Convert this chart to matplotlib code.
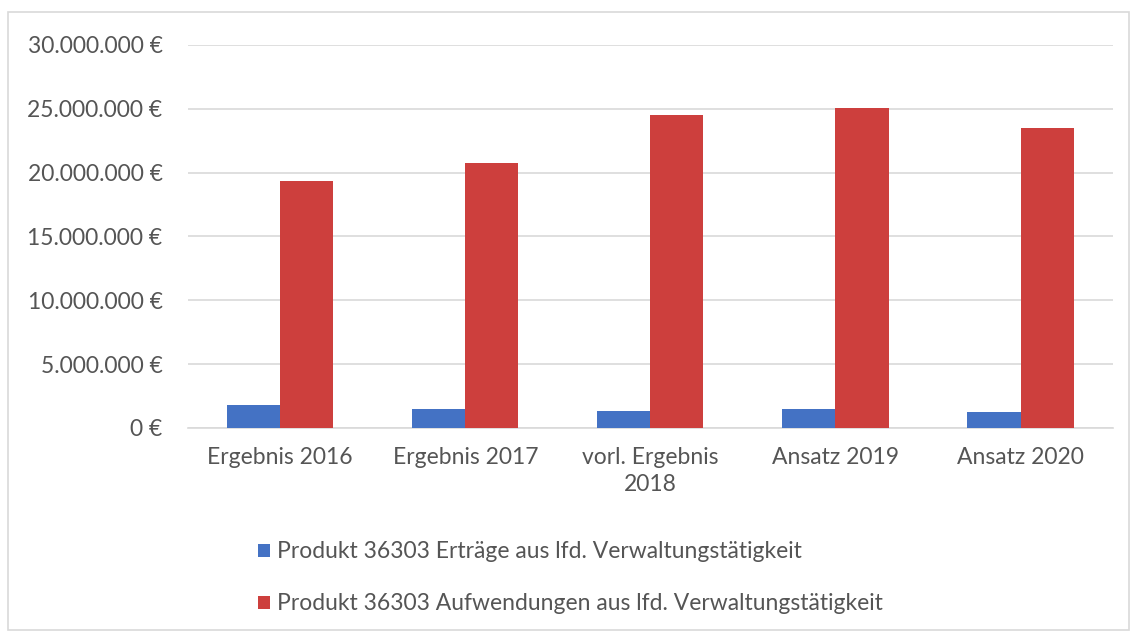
import matplotlib

matplotlib.use("Agg", force=True)
import matplotlib.pyplot as plt
import numpy as np
from matplotlib.patches import Rectangle

categories = ["Ergebnis 2016", "Ergebnis 2017", "vorl. Ergebnis\n2018", "Ansatz 2019", "Ansatz 2020"]
ertraege = [1.8e6, 1.45e6, 1.3e6, 1.45e6, 1.25e6]
aufwendungen = [19.3e6, 20.75e6, 24.5e6, 25.05e6, 23.5e6]
series_names = [
    "Produkt 36303 Erträge aus lfd. Verwaltungstätigkeit",
    "Produkt 36303 Aufwendungen aus lfd. Verwaltungstätigkeit",
]
yticks = [0, 5e6, 10e6, 15e6, 20e6, 25e6, 30e6]

plt.rcParams["font.family"] = ["Lato", "DejaVu Sans"]
text_color = "#555555"
blue = "#4472C4"
red = "#CD3F3D"

fig = plt.figure(figsize=(11.37, 6.32), dpi=100)
fig.patches.append(Rectangle((0.007, 0.003), 0.986, 0.978, transform=fig.transFigure,
                             fill=False, edgecolor="#D9D9D9", linewidth=1.2))
ax = fig.add_axes([0.165, 0.323, 0.814, 0.606])

x = np.arange(len(categories))
w = 0.287
ax.bar(x - w / 2, ertraege, w, color=blue, label=series_names[0], zorder=3)
ax.bar(x + w / 2, aufwendungen, w, color=red, label=series_names[1], zorder=3)

ax.set_xlim(-0.5, len(categories) - 0.5)
ax.set_ylim(0, 30e6)
ax.set_yticks(yticks)
ax.set_yticklabels([f"{int(v):,}".replace(",", ".") + " €" for v in yticks])
ax.set_xticks(x)
ax.set_xticklabels(categories, linespacing=1.35)
ax.yaxis.grid(True, color="#D9D9D9", linewidth=1.2, zorder=0)
for s in ["top", "right", "left"]:
    ax.spines[s].set_visible(False)
ax.spines["bottom"].set_color("#D9D9D9")
ax.spines["bottom"].set_linewidth(1.2)
ax.tick_params(axis="both", length=0, colors=text_color, labelsize=16.5)
ax.tick_params(axis="y", pad=18)
ax.tick_params(axis="x", pad=14)

fig.legend(loc="upper left", bbox_to_anchor=(0.219, 0.158), frameon=False,
           fontsize=16.5, labelcolor=text_color, handlelength=0.5, handleheight=0.5,
           handletextpad=0.3, labelspacing=1.35, borderaxespad=0)

fig.savefig("out.png", dpi=100)
